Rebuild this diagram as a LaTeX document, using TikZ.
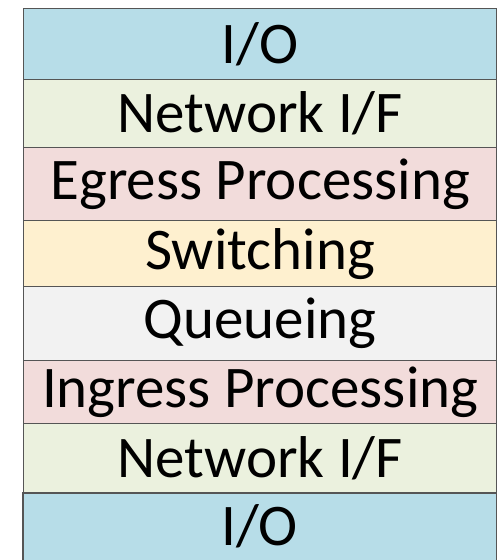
\documentclass[tikz,border=0pt]{standalone}
\usepackage{fontspec}
\setmainfont{Carlito}
\definecolor{ioblue}{HTML}{B7DDE8}
\definecolor{nifgreen}{HTML}{EBF1DE}
\definecolor{procpink}{HTML}{F2DCDB}
\definecolor{swyellow}{HTML}{FEF0CF}
\definecolor{qgray}{HTML}{F2F2F2}
\definecolor{edge}{HTML}{555555}
\tikzset{
  layerbase/.style={anchor=north west, inner sep=0pt,
    minimum width=473pt, font=\fontsize{59}{59}\selectfont, text=black},
  layer/.style={layerbase, draw=edge, line width=1.3pt},
  edgeline/.style={draw=edge, line width=1.3pt}
}
\begin{document}
\begin{tikzpicture}[x=1pt,y=1pt]
\useasboundingbox (0,0) rectangle (502,-560);
\node[layer, fill=ioblue,   minimum height=71pt] (io1)  at (23,-8)   {I/O};
\node[layer, fill=nifgreen, minimum height=68pt] (nif1) at (23,-79)  {Network I/F};
\node[layer, fill=procpink, minimum height=73pt] (eg)   at (23,-147) {Egress Processing};
\node[layer, fill=swyellow, minimum height=66pt] (sw)   at (23,-220) {Switching};
\node[layer, fill=qgray,    minimum height=74pt] (q)    at (23,-286) {Queueing};
\node[layer, fill=procpink, minimum height=63pt] (ing)  at (23,-360) {Ingress Processing};
\node[layer, fill=nifgreen, minimum height=70pt] (nif2) at (23,-423) {Network I/F};
\node[layerbase, fill=ioblue, minimum height=67pt] (io2) at (23,-493) {I/O};
\draw[edgeline] (io2.south west) -- (io2.north west) -- (io2.north east) -- (io2.south east);
\end{tikzpicture}
\end{document}
